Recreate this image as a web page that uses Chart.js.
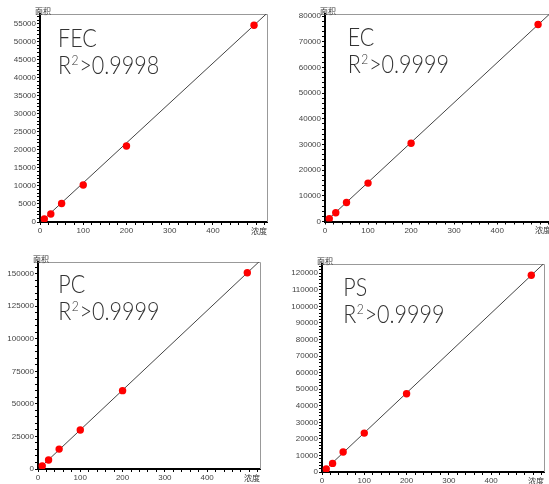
<!DOCTYPE html>
<html><head><meta charset="utf-8">
<script src="https://cdn.jsdelivr.net/npm/chart.js@4"></script>
<style>
html,body{margin:0;padding:0;background:#fff;overflow:hidden;width:549px;height:484px;position:relative;}
.p{position:absolute;}
</style></head><body>
<div class="p" style="left:0;top:0"><canvas id="c1" width="275" height="240"></canvas></div>
<div class="p" style="left:275px;top:0"><canvas id="c2" width="280" height="240"></canvas></div>
<div class="p" style="left:0;top:240px"><canvas id="c3" width="275" height="244"></canvas></div>
<div class="p" style="left:275px;top:240px"><canvas id="c4" width="274" height="244"></canvas></div>
<script>
// ---- data ----
const concentration = [10, 25, 50, 100, 200, 495];
const fecArea = [850, 2200, 5150, 10250, 21100, 54600];
const ecArea  = [1050, 3400, 7400, 14950, 30450, 76700];
const pcArea  = [2300, 6900, 15300, 29900, 60200, 150700];
const psArea  = [1800, 5200, 12050, 23500, 47250, 118800];
const fitX = [0, 525];
const fecFit = [-200, 57900];
const ecFit  = [-300, 81300];
const pcFit  = [-500, 159900];
const psFit  = [-400, 126000];
const compounds = ['FEC', 'EC', 'PC', 'PS'];
const r2Labels = ['>0.9998', '>0.9999', '>0.9999', '>0.9999'];
const yMax = [57700, 80800, 159000, 125600];
const yMajor = [5000, 10000, 25000, 10000];
const yMinor = [1000, 2000, 5000, 2000];
const xMax = 525, xMajor = 100, xMinor = 20, xLastLabel = 400;
const yTitle = '面积', xTitle = '浓度';

// ---- layout (per panel) ----
const panels = [
  {id:'c1', area:fecArea, fit:fecFit, yW:40, xH:18, pad:{top:14,right:8,left:0,bottom:0}, tx:58,   ty1:46.7, ty2:74},
  {id:'c2', area:ecArea,  fit:ecFit,  yW:50, xH:18.5, pad:{top:14,right:4,left:0,bottom:0}, tx:72.7, ty1:45.7, ty2:72.7},
  {id:'c3', area:pcArea,  fit:pcFit,  yW:38, xH:15, pad:{top:22,right:15,left:0,bottom:0}, tx:58.3, ty1:53.3, ty2:80},
  {id:'c4', area:psArea,  fit:psFit,  yW:47, xH:12, pad:{top:24,right:5,left:0,bottom:0}, tx:68.3, ty1:56, ty2:82.7}
];

const BIG = '"Lato", "Open Sans", "Liberation Sans", sans-serif';
const SX = 0.86;
const isMult = (v, m) => Math.abs(v / m - Math.round(v / m)) < 1e-6;
const stepTicks = (max, step) => { const t = []; for (let k = 0; k * step <= max; k++) t.push({value: k * step}); return t; };

const deco = {
  id: 'deco',
  beforeDatasetsDraw(chart) {
    const {ctx, chartArea: a} = chart;
    ctx.save();
    ctx.strokeStyle = '#999'; ctx.lineWidth = 1;
    ctx.beginPath();
    ctx.moveTo(a.left, Math.round(a.top) + 0.5);
    ctx.lineTo(Math.round(a.right) + 0.5, Math.round(a.top) + 0.5);
    ctx.lineTo(Math.round(a.right) + 0.5, a.bottom);
    ctx.stroke();
    ctx.restore();
  },
  afterDraw(chart, args, o) {
    const {ctx, chartArea: a} = chart;
    ctx.save();
    ctx.fillStyle = '#333';
    ctx.font = '8px "Noto Sans CJK SC", sans-serif';
    ctx.textAlign = 'center'; ctx.textBaseline = 'bottom';
    ctx.fillText(yTitle, a.left + 3, a.top + 1);
    ctx.textAlign = 'right'; ctx.textBaseline = 'middle';
    ctx.fillText(xTitle, a.right, a.bottom + 8.5);
    // big labels (slightly condensed)
    ctx.fillStyle = '#333';
    ctx.textAlign = 'left'; ctx.textBaseline = 'alphabetic';
    ctx.translate(o.tx, 0);
    ctx.scale(SX, 1);
    ctx.font = '300 25px ' + BIG;
    ctx.fillText(o.name, 0, o.ty1);
    let x = 0;
    ctx.fillText('R', x, o.ty2);
    x += ctx.measureText('R').width + 0.5;
    ctx.font = '300 14px ' + BIG;
    ctx.fillText('2', x, o.ty2 - 9);
    x += ctx.measureText('2').width + 1;
    ctx.font = '300 25px ' + BIG;
    ctx.fillText(o.r2, x, o.ty2);
    ctx.restore();
  }
};

panels.forEach((p, i) => {
  const pts = concentration.map((c, k) => ({x: c, y: p.area[k]}));
  const line = fitX.map((c, k) => ({x: c, y: p.fit[k]}));
  new Chart(document.getElementById(p.id), {
    type: 'scatter',
    data: {datasets: [
      {data: pts, backgroundColor: '#ff0000', borderColor: '#ff0000', pointRadius: 3.7, pointBorderWidth: 0, order: 0},
      {data: line, showLine: true, borderColor: '#444', borderWidth: 1, pointRadius: 0, order: 1}
    ]},
    options: {
      responsive: false, animation: false, devicePixelRatio: 1,
      layout: {padding: p.pad},
      plugins: {legend: {display: false}, tooltip: {enabled: false},
        deco: {name: compounds[i], r2: r2Labels[i], tx: p.tx, ty1: p.ty1, ty2: p.ty2}},
      scales: {
        x: {type: 'linear', min: 0, max: xMax,
          afterBuildTicks: s => { s.ticks = stepTicks(xMax, xMinor); },
          afterFit: s => { s.height = p.xH; },
          border: {display: true, color: '#000', width: 2},
          grid: {drawOnChartArea: false, drawTicks: true, tickLength: 3, tickColor: '#000', tickWidth: 1},
          ticks: {autoSkip: false, maxRotation: 0, minRotation: 0, padding: 1,
            color: '#444', font: {family: '"Liberation Sans", Arial, sans-serif', size: 8},
            callback: v => (isMult(v, xMajor) && v <= xLastLabel + 1) ? String(Math.round(v)) : ''}
        },
        y: {type: 'linear', min: 0, max: yMax[i],
          afterBuildTicks: s => { s.ticks = stepTicks(yMax[i], yMinor[i]); },
          afterFit: s => { s.width = p.yW; },
          border: {display: true, color: '#000', width: 2},
          grid: {drawOnChartArea: false, drawTicks: true, tickLength: 3, tickColor: '#000', tickWidth: 1},
          ticks: {autoSkip: false, padding: 1,
            color: '#444', font: {family: '"Liberation Sans", Arial, sans-serif', size: 8},
            callback: v => isMult(v, yMajor[i]) ? String(Math.round(v)) : ''}
        }
      }
    },
    plugins: [deco]
  });
});
</script>
</body></html>
